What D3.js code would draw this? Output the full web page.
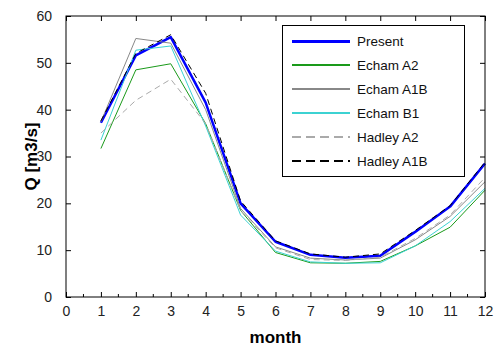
<!DOCTYPE html>
<html>
<head>
<meta charset="utf-8">
<script src="https://cdn.jsdelivr.net/npm/d3@7"></script>
<style>
  body { margin: 0; background: #fff; }
  text { font-family: 'Liberation Sans', Arial, sans-serif; }
</style>
</head>
<body>
<div id="chart"></div>
<script>
// months on the x axis
const months = [1, 2, 3, 4, 5, 6, 7, 8, 9, 10, 11, 12];
const xTicks = [0, 1, 2, 3, 4, 5, 6, 7, 8, 9, 10, 11, 12];
const yTicks = [0, 10, 20, 30, 40, 50, 60];

// discharge values (m3/s)
const present   = [37.2, 51.6, 55.5, 41.5, 20.0, 11.8, 9.0, 8.4, 8.8, 13.9, 19.3, 28.5];
const echamA2   = [31.7, 48.5, 49.8, 37.0, 18.5, 9.5, 7.3, 7.2, 7.6, 10.9, 14.9, 22.8];
const echamA1B  = [37.4, 55.2, 54.2, 40.0, 18.9, 10.7, 8.3, 7.9, 8.3, 12.2, 17.2, 24.6];
const echamB1   = [33.5, 52.7, 53.6, 36.5, 17.5, 9.8, 7.5, 7.2, 7.3, 10.9, 16.1, 23.2];
const hadleyA2  = [35.0, 42.0, 46.5, 37.0, 18.5, 10.5, 8.0, 7.8, 8.5, 12.5, 17.5, 25.5];
const hadleyA1B = [37.6, 52.0, 56.0, 43.5, 20.5, 12.0, 9.2, 8.5, 9.2, 14.2, 19.5, 28.8];

const seriesNames = ['Present', 'Echam A2', 'Echam A1B', 'Echam B1', 'Hadley A2', 'Hadley A1B'];
const seriesValues = [present, echamA2, echamA1B, echamB1, hadleyA2, hadleyA1B];
const seriesColors = ['#0000ff', '#1a9a1a', '#888888', '#3cd2d2', '#aaaaaa', '#000000'];
const seriesWidths = [2.5, 1, 1, 1, 1, 1];
const seriesDash = [null, null, null, null, '6,4', '6,4'];

const width = 494, height = 349;
const margin = { top: 16, right: 9, bottom: 52, left: 66 };
const w = width - margin.left - margin.right;
const h = height - margin.top - margin.bottom;

const svg = d3.select('#chart').append('svg')
  .attr('width', width)
  .attr('height', height);

const g = svg.append('g')
  .attr('transform', `translate(${margin.left},${margin.top})`);

const x = d3.scaleLinear().domain([0, 12]).range([0, w]);
const y = d3.scaleLinear().domain([0, 60]).range([h, 0]);

// lines
const line = d3.line()
  .x((d, i) => x(months[i]))
  .y(d => y(d));

seriesValues.forEach((vals, k) => {
  g.append('path')
    .datum(vals)
    .attr('fill', 'none')
    .attr('stroke', seriesColors[k])
    .attr('stroke-width', seriesWidths[k])
    .attr('stroke-dasharray', seriesDash[k])
    .attr('stroke-linejoin', 'round')
    .attr('d', line);
});

// box
g.append('rect')
  .attr('x', 0).attr('y', 0)
  .attr('width', w).attr('height', h)
  .attr('fill', 'none')
  .attr('stroke', '#000')
  .attr('stroke-width', 1);

// bottom axis
const xAxis = g.append('g')
  .attr('transform', `translate(0,${h})`)
  .call(d3.axisBottom(x).tickValues(xTicks).tickSizeInner(-5).tickSizeOuter(0).tickPadding(9))
  .call(a => a.select('.domain').remove());
xAxis.selectAll('text').style('font-size', '14px').attr('fill', '#222');

// minor x ticks
g.append('g').selectAll('line')
  .data(d3.range(0.5, 12, 1))
  .join('line')
  .attr('x1', d => x(d)).attr('x2', d => x(d))
  .attr('y1', h).attr('y2', h - 3)
  .attr('stroke', '#000');

// top ticks
g.append('g')
  .call(d3.axisTop(x).tickValues(xTicks).tickSizeInner(-5).tickSizeOuter(0).tickFormat(''))
  .call(a => a.select('.domain').remove());

// left axis
const yAxis = g.append('g')
  .call(d3.axisLeft(y).tickValues(yTicks).tickSizeInner(-5).tickSizeOuter(0).tickPadding(14))
  .call(a => a.select('.domain').remove());
yAxis.selectAll('text').style('font-size', '14px').attr('fill', '#222');

// right ticks
g.append('g')
  .attr('transform', `translate(${w},0)`)
  .call(d3.axisRight(y).tickValues(yTicks).tickSizeInner(-5).tickSizeOuter(0).tickFormat(''))
  .call(a => a.select('.domain').remove());

// axis titles
svg.append('text')
  .attr('x', margin.left + w / 2)
  .attr('y', 343)
  .attr('text-anchor', 'middle')
  .style('font-size', '17px')
  .style('font-weight', 'bold')
  .text('month');

svg.append('text')
  .attr('transform', `translate(37,${margin.top + h / 2}) rotate(-90)`)
  .attr('text-anchor', 'middle')
  .style('font-size', '17px')
  .style('font-weight', 'bold')
  .text('Q [m3/s]');

// legend
const legend = svg.append('g').attr('transform', 'translate(282,25)');
legend.append('rect')
  .attr('x', 0.5).attr('y', 0.5)
  .attr('width', 182).attr('height', 151)
  .attr('fill', '#fff')
  .attr('stroke', '#000');

seriesNames.forEach((name, k) => {
  const ly = 16 + k * 24;
  legend.append('line')
    .attr('x1', 10).attr('x2', 68)
    .attr('y1', ly).attr('y2', ly)
    .attr('stroke', seriesColors[k])
    .attr('stroke-width', k === 0 ? 3 : 1.4)
    .attr('shape-rendering', 'crispEdges')
    .attr('stroke-dasharray', seriesDash[k] ? '9,5' : null);
  legend.append('text')
    .attr('x', 75).attr('y', ly + 5)
    .style('font-size', '13.5px')
    .attr('fill', '#111')
    .text(name);
});
</script>
</body>
</html>
